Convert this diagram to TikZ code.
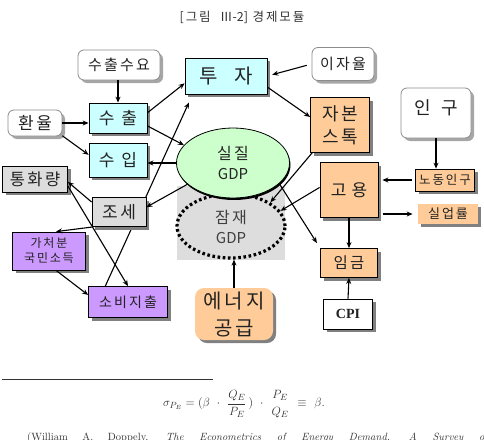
\documentclass[tikz,border=0pt]{standalone}
\usepackage{amsmath}
\usepackage{fontspec}
\newfontfamily\kr{Noto Sans CJK KR}[LetterSpace=15]
\newfontfamily\krn{Noto Sans CJK KR}
\newfontfamily\tms{Liberation Serif}
\usetikzlibrary{shadows,shapes.geometric,arrows.meta,calc,backgrounds}
\definecolor{cyanF}{HTML}{CCFFFF}
\definecolor{orangeF}{HTML}{FFCC99}
\definecolor{purpleF}{HTML}{CC99FF}
\definecolor{grayF}{HTML}{DDDDDD}
\definecolor{greenF}{HTML}{CCFFCC}
\definecolor{txt}{HTML}{222222}
\newcommand\fs[2]{\kr\fontsize{#1}{#2}\selectfont}
\newcommand\gdp[1]{{\krn\fontsize{#1}{#1}\selectfont GDP}}
\tikzset{
  shad/.style={drop shadow={shadow xshift=3pt,shadow yshift=-3pt,fill=black!50,opacity=1}},
  sbox/.style={draw=black,line width=0.8pt,inner sep=0pt,align=center,text=txt,shad},
  cyanbox/.style={sbox,fill=cyanF},
  orangebox/.style={sbox,fill=orangeF},
  purplebox/.style={sbox,fill=purpleF},
  graybox/.style={sbox,fill=grayF},
  whitebox/.style={sbox,fill=white},
  roundbox/.style={draw=black!45,line width=0.8pt,rounded corners=6pt,fill=white,inner sep=0pt,align=center,text=txt,
    drop shadow={shadow xshift=3pt,shadow yshift=-3pt,fill=black!35,opacity=1}},
  arr/.style={-{Stealth[length=6pt,width=5pt]},line width=1.1pt},
}
\begin{document}
\begin{tikzpicture}[x=1pt,y=-1pt]
\useasboundingbox (0,0) rectangle (484,439);
\clip (0,0) rectangle (484,439);

% title
\node[font=\fs{12.5}{14},text=black!80] (title) at (242,17) {[그림 \ {\krn Ⅲ-2}] 경제모듈};

% potential GDP background
\fill[grayF] (177,186) rectangle (285,260);
\node[ellipse,draw=black,line width=3.2pt,dash pattern=on 2.6pt off 2.6pt,minimum width=108pt,minimum height=64pt,inner sep=0pt,align=center,font=\fs{16}{20},text=black!75] (pgdp) at (231,226) {\\[-4pt]잠재\\\gdp{15}};

% nodes
\node[roundbox,minimum width=82pt,minimum height=30pt,font=\fs{15}{17}] (sul) at (119,65) {수출수요};
\node[cyanbox,minimum width=82pt,minimum height=36pt,font=\fs{20}{24}] (invest) at (226,76) {투\hspace{0.8em}자};
\node[roundbox,minimum width=62pt,minimum height=33pt,font=\fs{15}{17}] (rate) at (343,64) {이자율};
\node[roundbox,minimum width=70pt,minimum height=50pt,text height=12pt,text depth=10pt,font=\fs{18}{20}] (pop) at (436,113) {인\hspace{0.6em}구};
\node[orangebox,minimum width=59pt,minimum height=55pt,font=\fs{18}{23}] (capital) at (340,125) {자본\\스톡};
\node[roundbox,minimum width=54pt,minimum height=26pt,font=\fs{17}{19}] (fx) at (35,123) {환율};
\node[cyanbox,minimum width=58pt,minimum height=30pt,font=\fs{17}{19}] (exp) at (118,118) {수\hspace{0.4em}출};
\node[cyanbox,minimum width=58pt,minimum height=34pt,font=\fs{17}{19}] (imp) at (118,160) {수\hspace{0.4em}입};
\node[ellipse,draw=black,line width=0.8pt,fill=greenF,minimum width=113pt,minimum height=70pt,inner sep=0pt,align=center,font=\fs{16}{20},text=black!85,
  drop shadow={shadow xshift=1pt,shadow yshift=-2pt,fill=black,opacity=1}] (rgdp) at (233,163) {실질\\\gdp{15}};
\node[graybox,minimum width=65pt,minimum height=26pt,font=\fs{16.5}{18}] (money) at (35,179) {통화량};
\node[graybox,minimum width=54pt,minimum height=29pt,font=\fs{17}{19}] (tax) at (119,212) {조세};
\node[orangebox,minimum width=58pt,minimum height=55pt,font=\fs{17}{19}] (emp) at (349,190) {고\hspace{0.3em}용};
\node[orangebox,minimum width=59pt,minimum height=22pt,font=\fs{12.5}{14}] (labor) at (445,180) {노동인구};
\node[sbox,draw=none,fill=orangeF,minimum width=60pt,minimum height=20pt,font=\fs{13}{15}] (unemp) at (448,214) {실업률};
\node[purplebox,minimum width=73pt,minimum height=38pt,font=\fs{12}{15}] (disp) at (49,251) {가처분\\국민소득};
\node[purplebox,minimum width=79pt,minimum height=31pt,font=\fs{14}{16}] (cons) at (128,302) {소비지출};
\node[orangebox,minimum width=57pt,minimum height=29pt,font=\fs{15.5}{17}] (wage) at (349,263) {임금};
\node[sbox,draw=none,fill=orangeF,rounded corners=9pt,minimum width=78pt,minimum height=52pt,font=\fs{20}{27}] (energy) at (234,314) {에너지\\공급};
\node[whitebox,minimum width=49pt,minimum height=30pt,font=\tms\bfseries\fontsize{14}{16}\selectfont] (cpi) at (348,314) {CPI};

% long connector behind tax box
\begin{pgfonlayer}{background}
\draw[arr,shorten >=9pt] (cons.145) -- ($(invest.south west)+(8,0)$);
\end{pgfonlayer}

% connectors
\draw[arr] (sul.south -| exp.north) -- (exp.north);
\draw[arr] (fx.east) -- (fx.east -| exp.west);
\draw[arr] (fx.-25) -- (imp.170);
\draw[arr] (exp.10) -- (invest.190);
\draw[arr] (exp.-15) -- (rgdp.160);
\draw[arr] (rgdp.west) -- (rgdp.west -| imp.east);
\draw[arr,shorten <=5pt,shorten >=5pt] (rate.west) -- (invest.east);
\draw[arr] (invest.-15) -- (capital.165);
\draw[arr] (tax.160) -- (money.-5);
\draw[arr] (money.-12) -- (cons.north);
\draw[arr] (tax.210) -- (disp.70);
\draw[arr] (disp.-70) -- (cons.170);
\draw[arr] (rgdp.205) -- (tax.10);
\draw[arr] (capital.225) -- (pgdp.31);
\draw[arr] (emp.175) -- (pgdp.17);
\draw[arr,shorten >=6pt] (rgdp.-24) -- (wage.north west);
\draw[arr,shorten <=3pt,shorten >=4pt] (labor.west) -- (labor.west -| emp.east);
\draw[arr] (pop.south) -- (pop.south |- labor.north);
\draw[arr,shorten <=5pt,shorten >=5pt] (emp.east |- unemp.west) -- (unemp.west);
\draw[arr] (emp.south) -- (wage.north);
\draw[arr] (cpi.north) -- (wage.south);
\draw[arr] (energy.north) -- (energy.north |- pgdp.south);

% footnote rule and formula
\coordinate (ruleL) at (2,379);
\coordinate (ruleR) at (213,379);
\draw[line width=0.7pt,black!80] (ruleL) -- (ruleR);
\node[font=\fontsize{13}{15}\selectfont,text=black!80] (formula) at (244,404)
  {$\displaystyle \sigma_{P_{\scriptscriptstyle E}} = (\beta\ \cdot\ \frac{Q_E}{P_E}\,)\ \cdot\ \genfrac{}{}{0pt}{}{P_E}{Q_E}\ \equiv\ \beta.$};
\node[anchor=base west,inner sep=0pt,font=\fontsize{10.5}{12}\selectfont,text=black!80] (cite) at (27,440.5)
  {\makebox[462pt][s]{(William A. Doppely, \textit{The Econometrics of Energy Demand, A Survey of}}};
\end{tikzpicture}
\end{document}
